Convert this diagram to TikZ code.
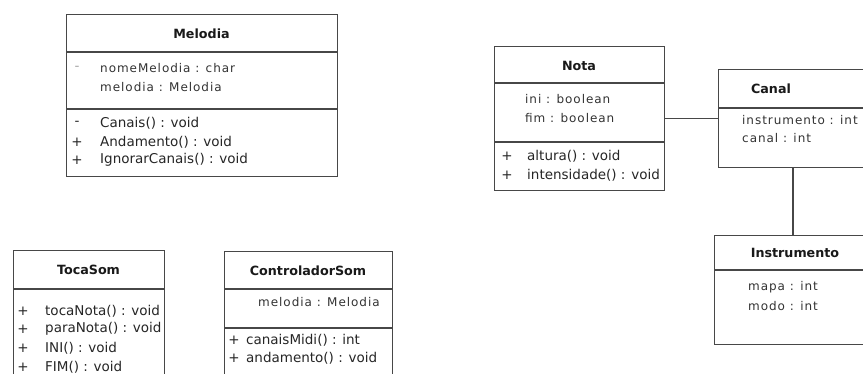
\documentclass[tikz,border=0pt]{standalone}
\usepackage{fontspec}
\setmainfont{DejaVu Sans}
\newfontfamily\attrfont[LetterSpace=8]{DejaVu Sans}
\tikzset{
  umlbox/.style={draw=black!72, line width=1.3pt, fill=white, rectangle, inner sep=0pt, anchor=north west},
  ctitle/.style={font=\fontsize{12.7}{15}\selectfont\bfseries, text=black!90, inner sep=0pt},
  meth/.style={font=\fontsize{13.5}{16}\selectfont, text=black!85, inner sep=0pt, anchor=west},
  attr/.style={font=\attrfont\fontsize{12}{14}\selectfont, text=black!80, inner sep=0pt, anchor=west},
  vis/.style={font=\fontsize{13.5}{16}\selectfont, text=black!85, inner sep=0pt},
  sepline/.style={draw=black!72, line width=1.1pt},
  link/.style={draw=black!72, line width=1.3pt}
}
\begin{document}
\begin{tikzpicture}[x=1pt,y=-1pt]
\useasboundingbox (0,0) rectangle (863,374);
\clip (0,0) rectangle (863,374);
\fill[white] (0,0) rectangle (863,374);

% ---------- Melodia ----------
\node[umlbox, minimum width=271pt, minimum height=162pt] (melodia) at (66,14) {};
\draw[sepline] (melodia.west |- 0,52) -- (melodia.east |- 0,52);
\draw[sepline] (melodia.west |- 0,109) -- (melodia.east |- 0,109);
\node[ctitle] (melodiaT) at (201.5,34) {Melodia};
\node[vis, text=black!35] (melodiaV1) at (77,68) {-};
\node[attr] (melodiaA1) at (100,68) {nomeMelodia : char};
\node[attr] (melodiaA2) at (100,87) {melodia : Melodia};
\node[vis] (melodiaV3) at (77,123) {-};
\node[vis] (melodiaV4) at (77,142) {+};
\node[vis] (melodiaV5) at (77,160) {+};
\node[meth] (melodiaM1) at (100,123) {Canais() : void};
\node[meth] (melodiaM2) at (100,142) {Andamento() : void};
\node[meth] (melodiaM3) at (100,160) {IgnorarCanais() : void};

% ---------- Nota ----------
\node[umlbox, minimum width=170pt, minimum height=144pt] (nota) at (494,46) {};
\draw[sepline] (nota.west |- 0,83) -- (nota.east |- 0,83);
\draw[sepline] (nota.west |- 0,142) -- (nota.east |- 0,142);
\node[ctitle] (notaT) at (579,66) {Nota};
\node[attr] (notaA1) at (525,99) {ini : boolean};
\node[attr] (notaA2) at (525,118) {fim : boolean};
\node[vis] (notaV1) at (507,156) {+};
\node[vis] (notaV2) at (507,175) {+};
\node[meth] (notaM1) at (527,156) {altura() : void};
\node[meth] (notaM2) at (527,175) {intensidade() : void};

% ---------- Canal ----------
\node[umlbox, minimum width=170pt, minimum height=98pt] (canal) at (718,69) {};
\draw[sepline] (canal.west |- 0,108) -- (canal.east |- 0,108);
\node[ctitle] (canalT) at (771,89) {Canal};
\node[attr] (canalA1) at (742,120) {instrumento : int};
\node[attr] (canalA2) at (742,138) {canal : int};

% ---------- Instrumento ----------
\node[umlbox, minimum width=170pt, minimum height=109pt] (instr) at (714,235) {};
\draw[sepline] (instr.west |- 0,270) -- (instr.east |- 0,270);
\node[ctitle] (instrT) at (795,253) {Instrumento};
\node[attr] (instrA1) at (748,287) {mapa : int};
\node[attr] (instrA2) at (748,306) {modo : int};

% ---------- TocaSom ----------
\node[umlbox, minimum width=151pt, minimum height=140pt] (toca) at (13,250) {};
\draw[sepline] (toca.west |- 0,289) -- (toca.east |- 0,289);
\node[ctitle] (tocaT) at (88.5,270) {TocaSom};
\node[vis] (tocaV1) at (23,311) {+};
\node[vis] (tocaV2) at (23,329) {+};
\node[vis] (tocaV3) at (23,348) {+};
\node[vis] (tocaV4) at (23,367) {+};
\node[meth] (tocaM1) at (45,311) {tocaNota() : void};
\node[meth] (tocaM2) at (45,329) {paraNota() : void};
\node[meth] (tocaM3) at (45,348) {INI() : void};
\node[meth] (tocaM4) at (45,367) {FIM() : void};

% ---------- ControladorSom ----------
\node[umlbox, minimum width=168pt, minimum height=140pt] (ctrl) at (224,251) {};
\draw[sepline] (ctrl.west |- 0,289) -- (ctrl.east |- 0,289);
\draw[sepline] (ctrl.west |- 0,328) -- (ctrl.east |- 0,328);
\node[ctitle] (ctrlT) at (308,271) {ControladorSom};
\node[attr] (ctrlA1) at (258,302) {melodia : Melodia};
\node[vis] (ctrlV1) at (234,340) {+};
\node[vis] (ctrlV2) at (234,358) {+};
\node[meth] (ctrlM1) at (246,340) {canaisMidi() : int};
\node[meth] (ctrlM2) at (246,358) {andamento() : void};

% ---------- connectors ----------
\draw[link] (nota.east) -- (nota.east -| canal.west);
\draw[link] ([xshift=75pt]canal.south west) -- ([xshift=79pt]instr.north west);
\end{tikzpicture}
\end{document}
